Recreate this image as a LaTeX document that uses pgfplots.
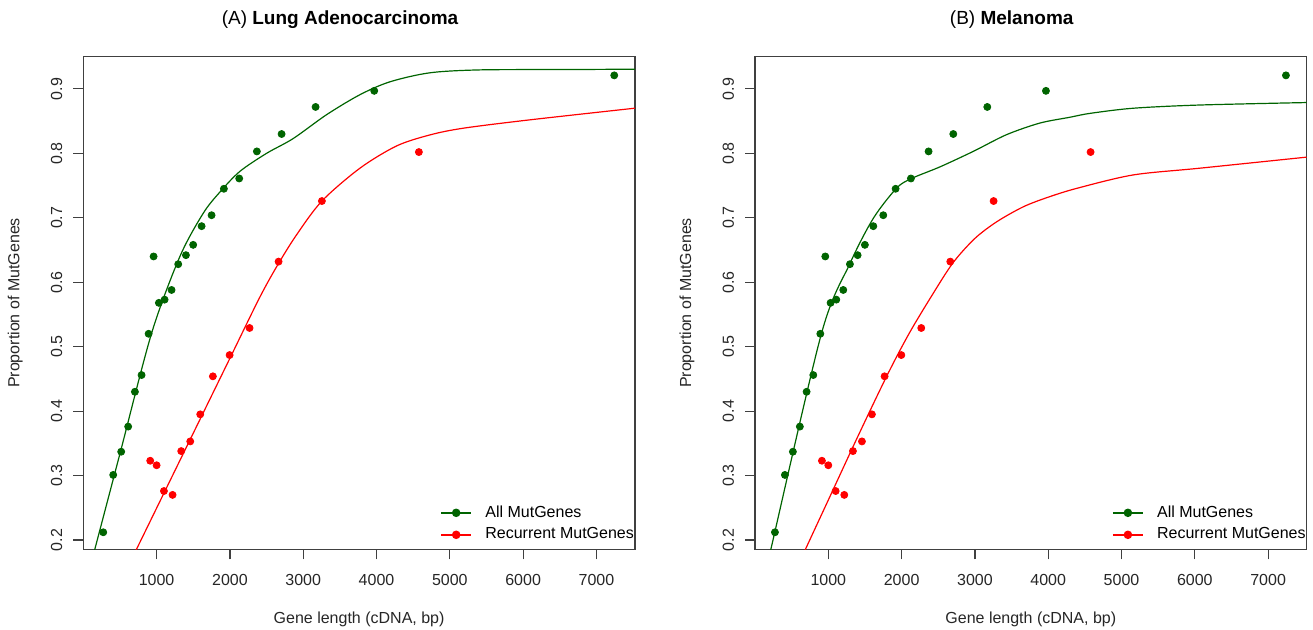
\documentclass[border=0pt]{standalone}
\usepackage{pgfplots}
\usepackage{pgfplotstable}
\usepackage{fontspec}
\setmainfont{Liberation Sans}
\pgfplotsset{compat=1.18}

\definecolor{dkgreen}{HTML}{006400}
\definecolor{rred}{HTML}{FF0000}

% observed points (same in both panels)
\pgfplotstableread{
x y
272 0.212
408 0.301
517 0.337
612 0.376
704 0.430
795 0.456
891 0.520
959 0.640
1031 0.568
1109 0.573
1204 0.588
1295 0.628
1400 0.642
1499 0.658
1614 0.687
1750 0.704
1918 0.745
2127 0.761
2368 0.803
2705 0.830
3169 0.872
3969 0.897
7243 0.921
}\allgenes

\pgfplotstableread{
x y
913 0.323
1000 0.316
1100 0.276
1218 0.270
1336 0.338
1459 0.353
1595 0.395
1768 0.454
1996 0.487
2268 0.529
2664 0.632
3255 0.726
4578 0.802
}\recgenes

% fitted curves
\pgfplotstableread{
x y
100 0.161
158 0.186
500 0.334
932 0.521
1318 0.640
1636 0.707
1864 0.740
2136 0.772
2500 0.800
2864 0.823
3319 0.860
3774 0.891
4183 0.911
4729 0.925
5411 0.9295
6500 0.930
7600 0.9306
}\fitAallA
\pgfplotstableread{
x y
650 0.168
1200 0.296
1600 0.389
2000 0.482
2400 0.575
2637 0.624
2900 0.672
3255 0.726
3774 0.777
4274 0.8115
4729 0.8286
5183 0.839
6093 0.852
7600 0.871
}\fitArecA
\pgfplotstableread{
x y
150 0.153
217 0.186
908 0.521
1295 0.629
1613 0.699
1932 0.746
2136 0.761
2523 0.779
2977 0.803
3432 0.829
3887 0.847
4296 0.856
4569 0.862
5160 0.870
6071 0.875
7600 0.879
}\fitBallB
\pgfplotstableread{
x y
600 0.163
690 0.186
1000 0.262
1400 0.360
1800 0.455
2100 0.520
2400 0.577
2700 0.630
3000 0.668
3300 0.694
3659 0.717
4000 0.732
4400 0.746
5160 0.7665
6071 0.777
7600 0.795
}\fitBrecB

\pgfplotsset{
  panel/.style={
    scale only axis,
    width=275.8pt, height=246.3pt,
    anchor=south west,
    xmin=0, xmax=7525,
    ymin=0.1856, ymax=0.950,
    xtick={1000,2000,...,7000},
    ytick={0.2,0.3,...,0.9},
    /pgf/number format/assume math mode=true,
    /pgf/number format/1000 sep={},
    scaled ticks=false,
    axis line style={black!75, line width=0.6pt},
    tick style={black!75, line width=0.6pt},
    tick align=outside,
    major tick length=5pt,
    xtick pos=bottom, ytick pos=left,
    tick label style={font=\fontsize{8}{10}\selectfont, text=black!85},
    yticklabel style={rotate=90, anchor=south},
    yticklabel shift=2pt,
    xticklabel shift=4.2pt,
    label style={font=\fontsize{8}{10}\selectfont, text=black!85},
    xlabel={Gene length (cDNA, bp)},
    ylabel={Proportion of MutGenes},
    xlabel style={at={(axis description cs:0.5,-0.1502)}, anchor=base},
    ylabel style={at={(axis description cs:-0.1233,0.5)}, rotate=0, anchor=center},
    every axis title shift=0pt,
    title style={at={(axis description cs:0.4655,1.0644)}, anchor=base,
      font=\fontsize{9.5}{11}\selectfont},
    legend style={at={(1,0)}, anchor=south east, xshift=0.5pt, yshift=2.7pt,
      draw=none, fill=none, inner sep=0pt, outer sep=0pt,
      font=\fontsize{8}{9}\selectfont,
      nodes={inner sep=1pt}, row sep=1.8pt,
      /tikz/every odd column/.append style={column sep=5.5pt}},
    legend cell align=left,
    legend image code/.code={\draw[#1, mark repeat=2, mark phase=2]
      plot coordinates {(0pt,0pt) (7.5pt,0pt) (15pt,0pt)};},
    pts/.style={only marks, mark=*, mark size=1.75pt},
    fit/.style={no marks, line width=0.6pt, smooth, tension=0.5},
  }
}

\begin{document}
\begin{tikzpicture}
\path[use as bounding box] (0,0) rectangle (656.5pt,315pt);

\begin{axis}[panel, at={(41.65pt,40.35pt)},
  title={(A) \textbf{Lung Adenocarcinoma}}]
\addplot[fit, dkgreen, forget plot] table {\fitAallA};
\addplot[fit, rred, forget plot] table {\fitArecA};
\addplot[pts, dkgreen, forget plot] table {\allgenes};
\addplot[pts, rred, forget plot] table {\recgenes};
\addlegendimage{dkgreen, line width=1.2pt, mark=*, mark size=1.5pt}
\addlegendentry{All MutGenes}
\addlegendimage{rred, line width=1.2pt, mark=*, mark size=1.5pt}
\addlegendentry{Recurrent MutGenes}
\end{axis}

\begin{axis}[panel, at={(377.5pt,40.35pt)},
  title={(B) \textbf{Melanoma}}]
\addplot[fit, dkgreen, forget plot] table {\fitBallB};
\addplot[fit, rred, forget plot] table {\fitBrecB};
\addplot[pts, dkgreen, forget plot] table {\allgenes};
\addplot[pts, rred, forget plot] table {\recgenes};
\addlegendimage{dkgreen, line width=1.2pt, mark=*, mark size=1.5pt}
\addlegendentry{All MutGenes}
\addlegendimage{rred, line width=1.2pt, mark=*, mark size=1.5pt}
\addlegendentry{Recurrent MutGenes}
\end{axis}
\end{tikzpicture}
\end{document}
